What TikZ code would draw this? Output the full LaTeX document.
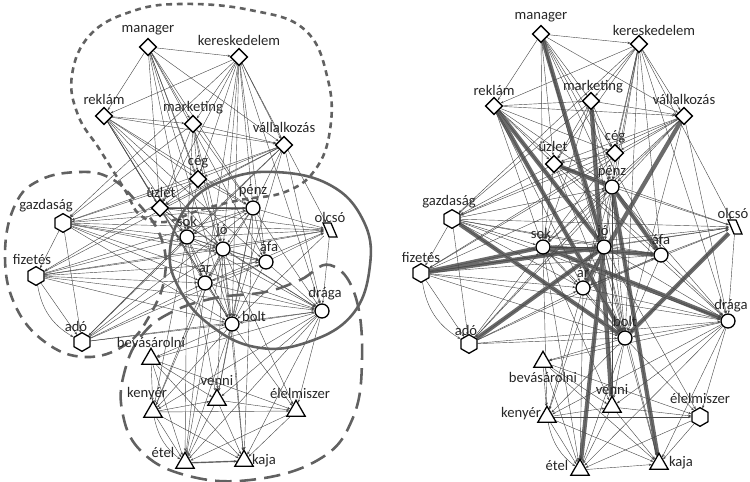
\documentclass[tikz,border=0pt]{standalone}
\usepackage{fontspec}
\setmainfont{Carlito}
\usetikzlibrary{shapes.geometric,arrows.meta}
\pgfdeclarelayer{bg}
\pgfsetlayers{bg,main}
\begin{document}
\begin{tikzpicture}[x=0.03cm,y=-0.03cm,
  shp/.style={draw=black,line width=1.1pt,fill=white,inner sep=0pt},
  dia/.style={shp,diamond,minimum size=0.52cm},
  cir/.style={shp,circle,minimum size=0.42cm},
  hex/.style={shp,regular polygon,regular polygon sides=6,minimum size=0.56cm,shape border rotate=30},
  tri/.style={shp,regular polygon,regular polygon sides=3,minimum size=0.64cm},
  par/.style={inner sep=0pt,minimum width=0.36cm,minimum height=0.44cm},
  lbl/.style={font=\fontsize{12.5}{14}\selectfont,inner sep=0pt,text=black!85},
  edge/.style={draw=black!72,line width=0.35pt,-{Stealth[length=2.6pt,width=2pt]}},
  heavy/.style={draw=black!58,line width=3.6pt},
  clus/.style={draw=black!62,line width=2.2pt},
]
\useasboundingbox (0,0) rectangle (750,482);
% ---------------- left graph nodes
\node[dia] (Lman) at (148,47) {};
\node[dia] (Lker) at (239,57) {};
\node[dia] (Lrek) at (104,116) {};
\node[dia] (Lmkt) at (193,124) {};
\node[dia] (Lval) at (284,145) {};
\node[dia] (Lceg) at (198,179) {};
\node[dia] (Luzl) at (160,208) {};
\node[cir] (Lpen) at (253,208) {};
\node[hex] (Lgaz) at (63,223) {};
\node[par] (Lolc) at (330,230) {};
\node[cir] (Lsok) at (187,237) {};
\node[cir] (Ljo) at (223,249) {};
\node[cir] (Lafa) at (266,262) {};
\node[hex] (Lfiz) at (36,276) {};
\node[cir] (Lar) at (205,283) {};
\node[cir] (Ldra) at (322,311) {};
\node[cir] (Lbol) at (232,324) {};
\node[hex] (Lado) at (82,342) {};
\node[tri] (Lbev) at (151,359) {};
\node[tri] (Lken) at (153,412) {};
\node[tri] (Lven) at (217,400) {};
\node[tri] (Lele) at (296,411) {};
\node[tri] (Lete) at (185,463) {};
\node[tri] (Lkaj) at (244,461) {};
% ---------------- right graph nodes
\node[dia] (Rman) at (541,34) {};
\node[dia] (Rker) at (639,44) {};
\node[dia] (Rrek) at (494,106) {};
\node[dia] (Rmkt) at (591,101) {};
\node[dia] (Rval) at (684,116) {};
\node[dia] (Rceg) at (615,153) {};
\node[dia] (Ruzl) at (554,164) {};
\node[cir] (Rpen) at (612,187) {};
\node[hex] (Rgaz) at (452,219) {};
\node[par] (Rolc) at (735,227) {};
\node[cir] (Rsok) at (543,247) {};
\node[cir] (Rjo) at (604,247) {};
\node[cir] (Rafa) at (661,255) {};
\node[hex] (Rfiz) at (421,273) {};
\node[cir] (Rar) at (583,288) {};
\node[cir] (Rdra) at (728,321) {};
\node[cir] (Rbol) at (625,338) {};
\node[hex] (Rado) at (469,344) {};
\node[tri] (Rbev) at (543,362) {};
\node[tri] (Rken) at (547,417) {};
\node[tri] (Rven) at (612,407) {};
\node[hex] (Rele) at (700,417) {};
\node[tri] (Rete) at (580,470) {};
\node[tri] (Rkaj) at (659,464) {};
% ---------------- labels left
\node[lbl] (Ltman) at (148,30) {manager};
\node[lbl] (Ltker) at (239,40) {kereskedelem};
\node[lbl] (Ltrek) at (104,99) {reklám};
\node[lbl] (Ltmkt) at (193,108) {marketing};
\node[lbl] (Ltval) at (284,127) {vállalkozás};
\node[lbl] (Ltceg) at (198,162) {cég};
\node[lbl] (Ltuzl) at (161,192) {üzlet};
\node[lbl] (Ltpen) at (253,191) {pénz};
\node[lbl] (Ltgaz) at (46,206) {gazdaság};
\node[lbl] (Ltolc) at (330,217) {olcsó};
\node[lbl] (Ltsok) at (187,221) {sok};
\node[lbl] (Ltjo) at (222,231) {jó};
\node[lbl] (Ltafa) at (269,247) {áfa};
\node[lbl] (Ltfiz) at (32,259) {fizetés};
\node[lbl] (Ltar) at (205,268) {ár};
\node[lbl] (Ltdra) at (325,294) {drága};
\node[lbl] (Ltbol) at (254,316) {bolt};
\node[lbl] (Ltado) at (76,326) {adó};
\node[lbl] (Ltbev) at (151,342) {bevásárolni};
\node[lbl] (Ltken) at (147,394) {kenyér};
\node[lbl] (Ltven) at (217,381) {venni};
\node[lbl] (Ltele) at (300,393) {élelmiszer};
\node[lbl] (Ltete) at (163,452) {étel};
\node[lbl] (Ltkaj) at (264,461) {kaja};
% ---------------- labels right
\node[lbl] (Rtman) at (541,17) {manager};
\node[lbl] (Rtker) at (654,30) {kereskedelem};
\node[lbl] (Rtrek) at (494,90) {reklám};
\node[lbl] (Rtmkt) at (593,87) {marketing};
\node[lbl] (Rtval) at (684,99) {vállalkozás};
\node[lbl] (Rtceg) at (615,137) {cég};
\node[lbl] (Rtuzl) at (553,146) {üzlet};
\node[lbl] (Rtpen) at (612,172) {pénz};
\node[lbl] (Rtgaz) at (449,202) {gazdaság};
\node[lbl] (Rtolc) at (733,213) {olcsó};
\node[lbl] (Rtsok) at (541,233) {sok};
\node[lbl] (Rtjo) at (603,232) {jó};
\node[lbl] (Rtafa) at (661,240) {áfa};
\node[lbl] (Rtfiz) at (421,257) {fizetés};
\node[lbl] (Rtar) at (583,273) {ár};
\node[lbl] (Rtdra) at (731,306) {drága};
\node[lbl] (Rtbol) at (625,321) {bolt};
\node[lbl] (Rtado) at (466,330) {adó};
\node[lbl] (Rtbev) at (543,377) {bevásárolni};
\node[lbl] (Rtken) at (521,414) {kenyér};
\node[lbl] (Rtven) at (612,390) {venni};
\node[lbl] (Rtele) at (700,398) {élelmiszer};
\node[lbl] (Rtete) at (557,465) {étel};
\node[lbl] (Rtkaj) at (681,463) {kaja};
% ---------------- connectors
\begin{pgfonlayer}{bg}
\foreach \a/\b in {man/jo,mkt/ven,rek/jo,rek/bol,val/ar,gaz/bol,fiz/sok,fiz/jo,sok/afa,sok/dra,ado/jo,olc/bol,jo/ete,pen/kaj,pen/afa,uzl/pen}
  \draw[heavy] (R\a) -- (R\b);
\draw[draw=black!50,line width=1.2pt] (Lete) -- (Lkaj);
\draw[draw=black!50,line width=1.2pt] (Luzl) -- (Lpen);
\foreach \a/\b in {man/ker,man/rek,man/uzl,man/ceg,man/val,man/sok,man/jo,man/pen,man/bol,man/mkt,man/afa,
ker/rek,ker/mkt,ker/val,ker/uzl,ker/ceg,ker/pen,ker/gaz,ker/jo,ker/afa,ker/bol,ker/dra,ker/olc,ker/ar,
rek/mkt,rek/val,rek/uzl,rek/ceg,rek/pen,rek/sok,rek/jo,rek/ar,rek/bol,rek/afa,
mkt/val,mkt/ceg,mkt/uzl,mkt/pen,mkt/gaz,mkt/jo,mkt/sok,mkt/bol,
val/ceg,val/uzl,val/gaz,val/pen,val/sok,val/ado,val/dra,val/bol,val/fiz,
ceg/uzl,ceg/pen,ceg/gaz,ceg/fiz,ceg/sok,
uzl/pen,uzl/sok,uzl/jo,uzl/bol,uzl/olc,uzl/dra,uzl/gaz,
gaz/pen,gaz/sok,gaz/jo,gaz/afa,gaz/ar,gaz/olc,gaz/fiz,gaz/ado,gaz/bol,gaz/dra,
fiz/ado,fiz/pen,fiz/sok,fiz/jo,fiz/ar,fiz/afa,fiz/bol,fiz/dra,fiz/olc,
ado/afa,ado/pen,ado/jo,ado/ar,ado/bol,ado/dra,ado/sok,
pen/sok,pen/jo,pen/afa,pen/ar,pen/olc,pen/dra,pen/bol,pen/ven,pen/kaj,
sok/jo,sok/ar,sok/afa,sok/olc,sok/dra,sok/bol,sok/ken,sok/ete,sok/ven,
jo/afa,jo/ar,jo/olc,jo/dra,jo/bol,jo/ete,jo/kaj,jo/ven,jo/ken,jo/ele,
afa/ar,afa/olc,afa/dra,afa/bol,
ar/olc,ar/dra,ar/bol,ar/ete,ar/ken,
olc/dra,olc/bol,
dra/bol,dra/ken,dra/ven,dra/ele,dra/ete,dra/kaj,dra/bev,
bol/bev,bol/ken,bol/ven,bol/ele,bol/ete,bol/kaj,
bev/ven,bev/ele,bev/ken,bev/kaj,bev/ete,
ken/ele,ken/ete,ken/kaj,ken/ven,
ven/ete,ven/kaj,ven/ele,
ele/ete,ele/kaj,ete/kaj}
  {\draw[edge] (L\a) -- (L\b); \draw[edge] (R\a) -- (R\b);}
\draw[edge] (Lfiz) to[bend right=25] (Lado);
\draw[edge] (Rfiz) to[bend right=25] (Rado);
\draw[edge] (Lken) to[bend right=20] (Lete);
\draw[edge] (Rken) to[bend right=20] (Rete);
% clusters
\draw[clus,dash pattern=on 5pt off 4pt] plot[smooth cycle,tension=0.7] coordinates {(180,4) (250,10) (305,30) (328,80) (330,130) (315,170) (285,192) (240,200) (200,210) (165,222) (140,215) (125,190) (100,150) (78,115) (72,75) (90,35) (130,12)};
\draw[clus,dash pattern=on 9pt off 6pt] plot[smooth cycle,tension=0.7] coordinates {(40,180) (80,172) (110,178) (135,200) (160,235) (165,275) (150,315) (125,345) (85,357) (45,342) (15,305) (5,255) (15,205)};
\draw[clus,dash pattern=on 14pt off 7pt] plot[smooth cycle,tension=0.7] coordinates {(330,265) (355,295) (362,360) (352,420) (318,460) (250,480) (185,475) (140,450) (122,410) (125,370) (142,335) (172,312) (215,298) (265,292) (300,280)};
\draw[clus] plot[smooth cycle,tension=0.7] coordinates {(170,250) (188,205) (225,180) (275,172) (330,185) (363,220) (370,265) (352,315) (305,343) (255,347) (210,325) (180,290)};
\end{pgfonlayer}
% parallelograms for olcso
\draw[shp] (Lolc) ++(-7,-7) -- ++(8,0) -- ++(6,14) -- ++(-8,0) -- cycle;
\draw[shp] (Rolc) ++(-7,-7) -- ++(8,0) -- ++(6,14) -- ++(-8,0) -- cycle;
\end{tikzpicture}
\end{document}
